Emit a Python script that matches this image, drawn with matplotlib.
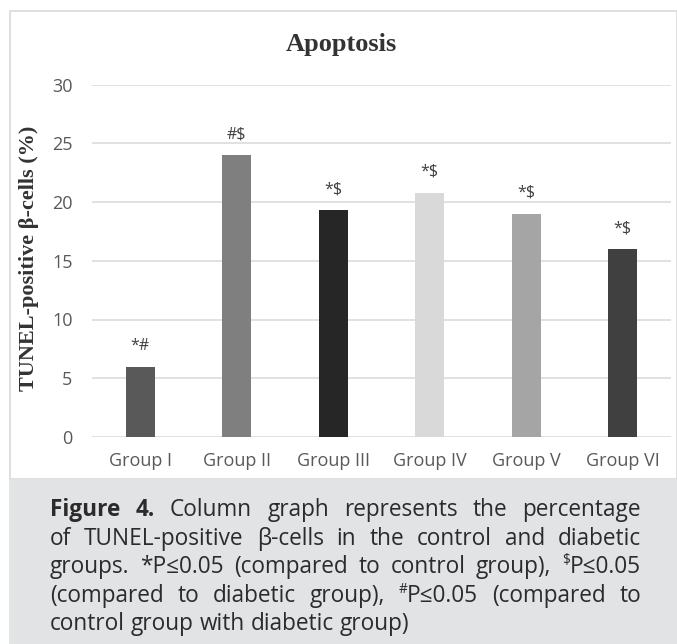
import matplotlib.pyplot as plt
from matplotlib.patches import Rectangle

# data
groups = ['Group I', 'Group II', 'Group III', 'Group IV', 'Group V', 'Group VI']
tunel_pct = [6.0, 24.0, 19.3, 20.8, 19.0, 16.0]
signif = ['*#', '#$', '*$', '*$', '*$', '*$']
bar_colors = ['#595959', '#7f7f7f', '#262626', '#d9d9d9', '#a5a5a5', '#404040']
yticks = [0, 5, 10, 15, 20, 25, 30]

title = 'Apoptosis'
ylabel = 'TUNEL-positive β-cells (%)'

# caption lines, "^" marks a superscript character, the last line is not justified
caption_lines = [
    'Figure 4. Column graph represents the percentage',
    'of TUNEL-positive β-cells in the control and diabetic',
    'groups. *P≤0.05 (compared to control group), ^$P≤0.05',
    '(compared to diabetic group), ^#P≤0.05 (compared to',
    'control group with diabetic group)',
]
bold_words = ['Figure', '4.']

W, H = 677, 644
fig = plt.figure(figsize=(W / 100, H / 100), dpi=100)


def fx(px):
    return px / W


def fy(py):
    return 1 - py / H


# white chart panel with light border, grey caption box
fig.patches.append(Rectangle((fx(9.5), fy(479)), fx(667), 467.5 / H, transform=fig.transFigure,
                             facecolor='white', edgecolor='#d9d9d9', lw=1.2, zorder=-2))
fig.patches.append(Rectangle((fx(9), 0), fx(668), 165 / H, transform=fig.transFigure,
                             facecolor='#e2e3e5', edgecolor='none', zorder=-1))

ax = fig.add_axes([fx(92), fy(437), fx(579), (437 - 84.5) / H])
ax.set_facecolor('none')
x = range(len(groups))
ax.bar(x, tunel_pct, width=0.3, color=bar_colors, zorder=3)
for i, (v, s) in enumerate(zip(tunel_pct, signif)):
    ax.annotate(s, (i, v), xytext=(0, 15), textcoords='offset points', ha='center', va='center',
                fontsize=11.5, color='#404040', family='Open Sans')

ax.set_xlim(-0.5, len(groups) - 0.5)
ax.set_ylim(0, 30)
ax.set_yticks(yticks)
ax.set_xticks(list(x))
ax.set_xticklabels(groups)
ax.yaxis.grid(True, color='#d9d9d9', lw=1.1, zorder=0)
ax.tick_params(length=0, labelsize=13, labelcolor='#595959', pad=14)
ax.tick_params(axis='x', pad=11)
for lab in ax.get_xticklabels() + ax.get_yticklabels():
    lab.set_family('Open Sans')
for sp in ax.spines.values():
    sp.set_visible(False)

fig.text(fx(341), fy(45), title, ha='center', va='center', fontsize=19, fontweight='bold',
         family='Liberation Serif', color='#333333')
fig.text(fx(29), fy(258), ylabel, ha='center', va='center', rotation=90, fontsize=16,
         fontweight='bold', family='Liberation Serif', color='#333333')

# justified caption
renderer = fig.canvas.get_renderer()
cap_size = 16.3
left, right = 50, 641
base0, step = 516, 28.6


def put(px, py, s, size, weight):
    t = fig.text(fx(px), fy(py), s, fontsize=size, fontweight=weight, family='Open Sans',
                 color='#2b2b2b', va='baseline', ha='left', zorder=5)
    return t, t.get_window_extent(renderer).width


for n, line in enumerate(caption_lines):
    base = base0 + n * step
    words = line.split(' ')
    # first pass: measure widths
    widths = []
    for w in words:
        weight = 'bold' if (n == 0 and w in bold_words) else 'normal'
        total = 0
        if w.startswith('^'):
            t, wd = put(0, 0, w[1], cap_size * 0.6, weight)
            total += wd
            t.remove()
            w = w[2:]
        t, wd = put(0, 0, w, cap_size, weight)
        t.remove()
        widths.append(total + wd)
    space = put(0, 0, 'a a', cap_size, 'normal')
    space[0].remove()
    a_w = put(0, 0, 'aa', cap_size, 'normal')
    a_w[0].remove()
    if n < len(caption_lines) - 1:
        gap = (right - left - sum(widths)) / (len(words) - 1)
    else:
        gap = space[1] - a_w[1]
    xpos = left
    for w, wd in zip(words, widths):
        weight = 'bold' if (n == 0 and w in bold_words) else 'normal'
        xx = xpos
        if w.startswith('^'):
            _, sw = put(xx, base - 9, w[1], cap_size * 0.6, weight)
            xx += sw
            w = w[2:]
        put(xx, base, w, cap_size, weight)
        xpos += wd + gap

fig.savefig('out.png', dpi=100)
